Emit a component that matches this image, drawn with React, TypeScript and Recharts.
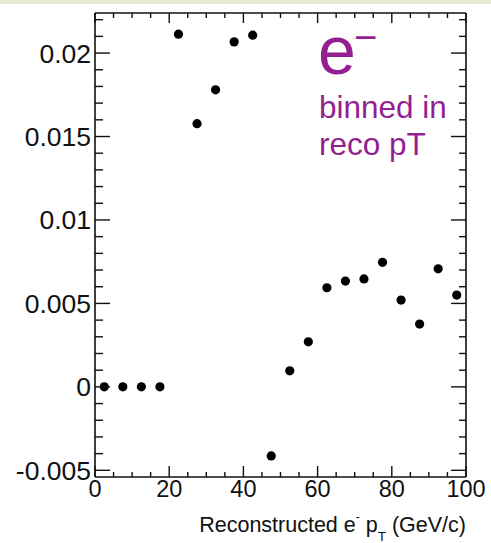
import React from "react";
import { ScatterChart, Scatter, XAxis, YAxis } from "recharts";

// ---- data ----
const binCenters = [2.5, 7.5, 12.5, 17.5, 22.5, 27.5, 32.5, 37.5, 42.5, 47.5, 52.5, 57.5, 62.5, 67.5, 72.5, 77.5, 82.5, 87.5, 92.5, 97.5];
const values = [0, 0, 0, 0, 0.02113, 0.01577, 0.0178, 0.02067, 0.02107, -0.00414, 0.00096, 0.0027, 0.00594, 0.00634, 0.00647, 0.00746, 0.0052, 0.00376, 0.00707, 0.0055];

const xMajorTicks = [0, 20, 40, 60, 80, 100];
const xMajorLabels = ["0", "20", "40", "60", "80", "100"];
const xAllTicks = [0, 5, 10, 15, 20, 25, 30, 35, 40, 45, 50, 55, 60, 65, 70, 75, 80, 85, 90, 95, 100];

const yMajorTicks = [-0.005, 0, 0.005, 0.01, 0.015, 0.02];
const yMajorLabels = ["-0.005", "0", "0.005", "0.01", "0.015", "0.02"];
const yAllTicks = [-0.005, -0.004, -0.003, -0.002, -0.001, 0, 0.001, 0.002, 0.003, 0.004, 0.005, 0.006, 0.007, 0.008, 0.009, 0.01, 0.011, 0.012, 0.013, 0.014, 0.015, 0.016, 0.017, 0.018, 0.019, 0.02, 0.021, 0.022];

const chartData = binCenters.map((x, i) => ({ x, y: values[i] }));

const FONT = "'Liberation Sans', Arial, Helvetica, sans-serif";
const INK = "#111";
const PURPLE = "#931f91";

const majorIndex = (list: number[], v: number) => list.findIndex((t) => Math.abs(t - v) < 1e-9);

const LeftTick = (props: any) => {
  const { x, y, payload } = props;
  const idx = majorIndex(yMajorTicks, payload.value);
  const major = idx >= 0;
  return (
    <g>
      <line x1={x} x2={x + (major ? 15 : 8)} y1={y} y2={y} stroke={INK} strokeWidth={1.4} />
      {major && (
        <text x={x - 4} y={y} dy={9.5} textAnchor="end" fontSize={26.5} fontFamily={FONT} fill={INK}>
          {yMajorLabels[idx]}
        </text>
      )}
    </g>
  );
};

const RightTick = (props: any) => {
  const { x, y, payload } = props;
  const major = majorIndex(yMajorTicks, payload.value) >= 0;
  return <line x1={x} x2={x - (major ? 15 : 7)} y1={y} y2={y} stroke={INK} strokeWidth={1.4} />;
};

const BottomTick = (props: any) => {
  const { x, y, payload } = props;
  const idx = majorIndex(xMajorTicks, payload.value);
  const major = idx >= 0;
  return (
    <g>
      <line x1={x} x2={x} y1={y} y2={y - (major ? 11 : 5)} stroke={INK} strokeWidth={1.4} />
      {major && (
        <text x={x} y={y} dy={20} textAnchor="middle" fontSize={23.5} fontFamily={FONT} fill={INK}>
          {xMajorLabels[idx]}
        </text>
      )}
    </g>
  );
};

const TopTick = (props: any) => {
  const { x, y, payload } = props;
  const major = majorIndex(xMajorTicks, payload.value) >= 0;
  return <line x1={x} x2={x} y1={y} y2={y + (major ? 10 : 5)} stroke={INK} strokeWidth={1.4} />;
};

const XTitle = (props: any) => {
  const vb = props.viewBox || { x: 95, y: 477, width: 371, height: 0 };
  const right = vb.x + vb.width;
  const base = vb.y + 55;
  return (
    <text x={right} y={base} textAnchor="end" fontSize={21.5} fontFamily={FONT} fill={INK}>
      Reconstructed e
      <tspan fontSize={12} dy={-11}>-</tspan>
      <tspan dy={11}> p</tspan>
      <tspan fontSize={13.5} dy={9}>T</tspan>
      <tspan dy={-9}> (GeV/c)</tspan>
    </text>
  );
};

const Dot = (props: any) => {
  const { cx, cy } = props;
  if (cx == null || cy == null) return null;
  return <circle cx={cx} cy={cy} r={4.6} fill="#000" />;
};

export default function App() {
  return (
    <div style={{ position: "absolute", left: 0, top: 0, width: 491, height: 543, background: "#fff", overflow: "hidden" }}>
      <div style={{ position: "absolute", left: 0, top: 0, width: 491, height: 4, background: "#eaead2" }} />
      <ScatterChart width={491} height={543} margin={{ top: 12, right: 24, bottom: 65, left: 0 }}>
        <XAxis
          xAxisId="bottom"
          dataKey="x"
          type="number"
          domain={[0, 100]}
          ticks={xAllTicks}
          interval={0}
          orientation="bottom"
          height={1}
          tickSize={0}
          tickMargin={0}
          tickLine={false}
          tick={<BottomTick />}
          axisLine={{ stroke: INK, strokeWidth: 1.6 }}
          allowDataOverflow
          label={(p: any) => <XTitle {...p} />}
        />
        <XAxis
          xAxisId="top"
          dataKey="x"
          type="number"
          domain={[0, 100]}
          ticks={xAllTicks}
          interval={0}
          orientation="top"
          height={1}
          tickSize={0}
          tickMargin={0}
          tickLine={false}
          tick={<TopTick />}
          axisLine={{ stroke: INK, strokeWidth: 1.6 }}
          allowDataOverflow
        />
        <YAxis
          yAxisId="left"
          dataKey="y"
          type="number"
          domain={[-0.0054, 0.0224]}
          ticks={yAllTicks}
          interval={0}
          orientation="left"
          width={95}
          tickSize={0}
          tickMargin={0}
          tickLine={false}
          tick={<LeftTick />}
          axisLine={{ stroke: INK, strokeWidth: 1.6 }}
          allowDataOverflow
        />
        <YAxis
          yAxisId="right"
          dataKey="y"
          type="number"
          domain={[-0.0054, 0.0224]}
          ticks={yAllTicks}
          interval={0}
          orientation="right"
          width={1}
          tickSize={0}
          tickMargin={0}
          tickLine={false}
          tick={<RightTick />}
          axisLine={{ stroke: INK, strokeWidth: 1.6 }}
          allowDataOverflow
        />
        <Scatter
          data={chartData}
          xAxisId="bottom"
          yAxisId="left"
          fill="#000"
          shape={<Dot />}
          isAnimationActive={false}
        />
      </ScatterChart>
      <svg width={491} height={543} style={{ position: "absolute", left: 0, top: 0, pointerEvents: "none" }}>
        <text x={318} y={74} fontSize={68} fontFamily={FONT} fill={PURPLE}>
          e
        </text>
        <text x={354} y={51} fontSize={40} fontFamily={FONT} fill={PURPLE}>
          −
        </text>
        <text x={319} y={118} fontSize={31.5} fontFamily={FONT} fill={PURPLE}>
          binned in
        </text>
        <text x={319} y={155} fontSize={31.5} fontFamily={FONT} fill={PURPLE}>
          reco pT
        </text>
      </svg>
    </div>
  );
}
